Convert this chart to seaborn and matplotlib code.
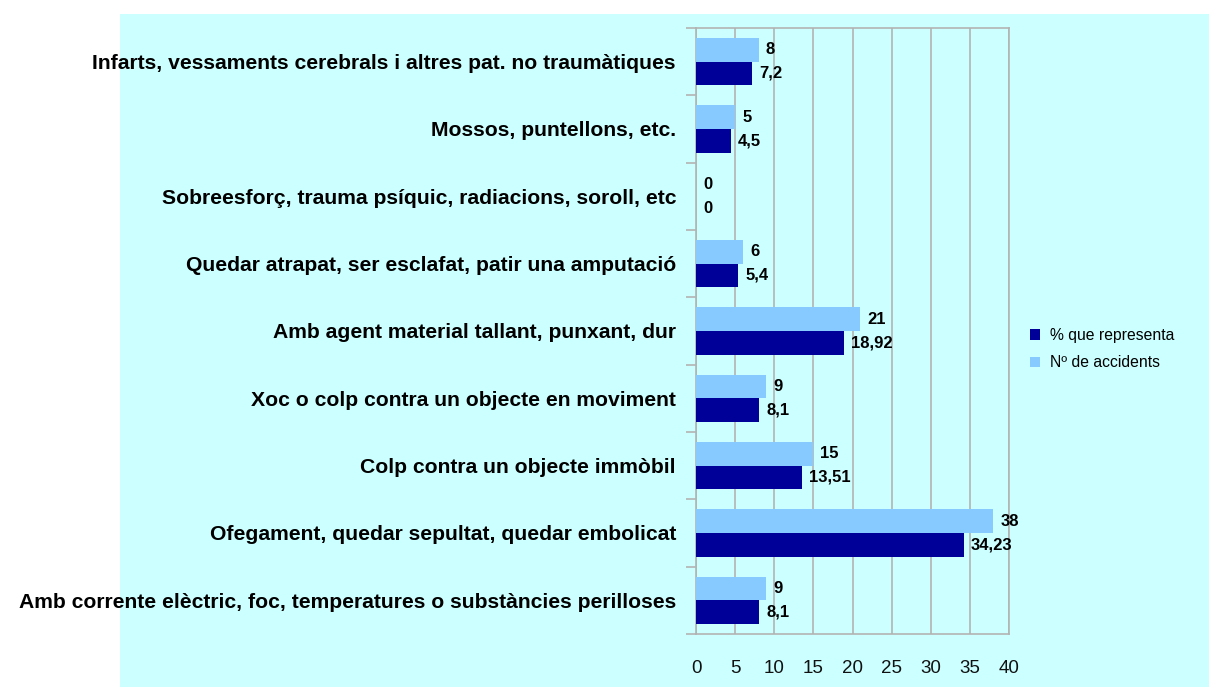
import matplotlib
matplotlib.use("Agg")
import matplotlib.pyplot as plt
import seaborn as sns
import pandas as pd
from matplotlib.patches import Rectangle
from matplotlib.ticker import FixedLocator

# categories listed top to bottom as in the chart
categories = [
    "Infarts, vessaments cerebrals i altres pat. no traumàtiques",
    "Mossos, puntellons, etc.",
    "Sobreesforç, trauma psíquic, radiacions, soroll, etc",
    "Quedar atrapat, ser esclafat, patir una amputació",
    "Amb agent material tallant, punxant, dur",
    "Xoc o colp contra un objecte en moviment",
    "Colp contra un objecte immòbil",
    "Ofegament, quedar sepultat, quedar embolicat",
    "Amb corrente elèctric, foc, temperatures o substàncies perilloses",
]
n_accidents = [8, 5, 0, 6, 21, 9, 15, 38, 9]
pct = [7.2, 4.5, 0, 5.4, 18.92, 8.1, 13.51, 34.23, 8.1]

series_pct = "% que representa"
series_n = "Nº de accidents"
colors = {series_n: "#87CAFF", series_pct: "#000099"}

df = pd.DataFrame({
    "categoria": categories * 2,
    "valor": n_accidents + pct,
    "serie": [series_n] * len(categories) + [series_pct] * len(categories),
})

sns.set_style("white")
plt.rcParams["font.family"] = ["Liberation Sans", "DejaVu Sans"]
plt.rcParams["text.color"] = "black"

fig = plt.figure(figsize=(12.09, 6.87), dpi=100)
fig.patch.set_facecolor("white")
# cyan chart area behind everything
bg = Rectangle((120 / 1209, 0), 1 - 120 / 1209, 1 - 14 / 687,
               transform=fig.transFigure, facecolor="#CCFFFF",
               edgecolor="none", zorder=-10)
fig.add_artist(bg)
ax = fig.add_axes([696 / 1209, 53 / 687, 313 / 1209, 606 / 687])
ax.set_zorder(1)
ax.set_facecolor("#CCFFFF")

sns.barplot(data=df, y="categoria", x="valor", hue="serie",
            hue_order=[series_n, series_pct], palette=colors,
            orient="h", width=0.7, saturation=1, linewidth=0,
            ax=ax, zorder=3)

for cont in ax.containers:
    labels = [f"{b.get_width():g}".replace(".", ",") for b in cont]
    ax.bar_label(cont, labels=labels, padding=5, fontsize=12,
                 fontweight="bold", color="black")

ax.set_xlim(0, 40)
ax.set_ylim(len(categories) - 0.5, -0.5)
ax.set_xticks(range(0, 41, 5))
ax.xaxis.grid(True, color="#b3b3b3", linewidth=1.2, zorder=0)
ax.set_axisbelow(True)
ax.set_xlabel("")
ax.set_ylabel("")

for side in ["top", "right", "left", "bottom"]:
    ax.spines[side].set_color("#b3b3b3")
    ax.spines[side].set_linewidth(1.2)

ax.tick_params(axis="x", length=8.5, width=1.2, color="#b3b3b3",
               labelsize=13.5, pad=10, labelcolor="#111111")
ax.tick_params(axis="y", which="major", length=0, pad=14.4,
               labelsize=15.2, labelcolor="black")
for lab in ax.get_yticklabels():
    lab.set_fontweight("bold")
ax.yaxis.set_minor_locator(FixedLocator([i + 0.5 for i in range(-1, len(categories))]))
ax.tick_params(axis="y", which="minor", length=7, width=1.2, color="#b3b3b3", left=True)

handles, labels = ax.get_legend_handles_labels()
order = [labels.index(series_pct), labels.index(series_n)]
ax.legend([handles[i] for i in order], [labels[i] for i in order],
          loc="center left", bbox_to_anchor=(1.067, 0.47), frameon=False,
          fontsize=11.3, handlelength=0.65, handleheight=0.65,
          handletextpad=0.6, labelspacing=0.8, borderpad=0,
          borderaxespad=0)

fig.savefig("out.png", dpi=100, facecolor=fig.get_facecolor())
